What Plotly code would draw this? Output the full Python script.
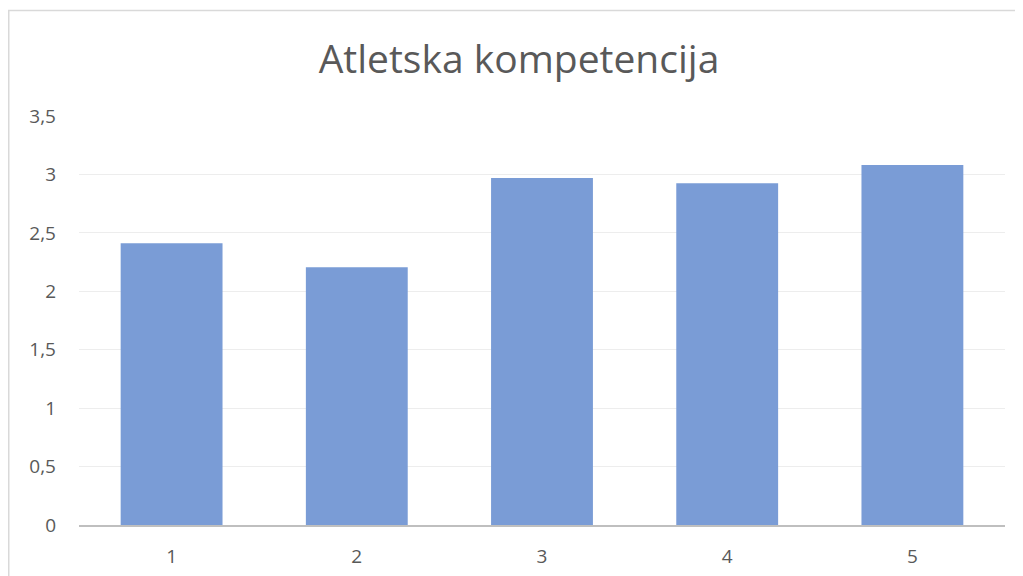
import plotly.graph_objects as go

categories = ["1", "2", "3", "4", "5"]
values = [2.41, 2.205, 2.97, 2.925, 3.08]
y_tickvals = [0, 0.5, 1, 1.5, 2, 2.5, 3, 3.5]
y_ticktext = ["0", "0,5", "1", "1,5", "2", "2,5", "3", "3,5"]
title_text = "Atletska kompetencija"

# page is offset by the 8px body margin
OFF = 8
W, H = 1023 - OFF, 576 - OFF
L, R, T, B = 79 - OFF, 18, 116 - OFF, 51
pw, ph = W - L - R, H - T - B

def px_x(p):
    return (p - OFF - L) / pw

def px_y(p):
    return (576 - B - p) / ph

fig = go.Figure()
fig.add_trace(go.Bar(
    x=categories, y=values,
    marker=dict(color="#7A9CD6", line=dict(width=0)),
))

fig.update_layout(
    width=W, height=H,
    margin=dict(l=L, r=R, t=T, b=B, autoexpand=False),
    paper_bgcolor="white", plot_bgcolor="white",
    bargap=0.45,
    showlegend=False,
    font=dict(family="Open Sans", color="#595959", size=19),
    title=dict(text=title_text, x=(519 - OFF) / W, xanchor="center",
               y=1 - (59 - OFF) / H, yanchor="middle",
               font=dict(family="Open Sans", size=39, color="#595959")),
    xaxis=dict(showgrid=False, showline=True, linecolor="#BFBFBF", linewidth=2,
               automargin=False,
               ticks="", ticklabelstandoff=13, tickfont=dict(size=19, color="#595959")),
    yaxis=dict(range=[0, 3.5], tickvals=y_tickvals, ticktext=y_ticktext,
               automargin=False,
               showgrid=True, gridcolor="#EDEDED", gridwidth=1, zeroline=False,
               showline=False, ticks="", ticklabelstandoff=22,
               tickfont=dict(size=19, color="#595959")),
    shapes=[
        dict(type="rect", xref="paper", yref="paper",
             x0=px_x(8.75), x1=px_x(1040), y0=px_y(10.5), y1=px_y(600),
             line=dict(color="#D9D9D9", width=1.5), fillcolor="rgba(0,0,0,0)", layer="below"),
    ],
)

fig.write_html("out.html")
